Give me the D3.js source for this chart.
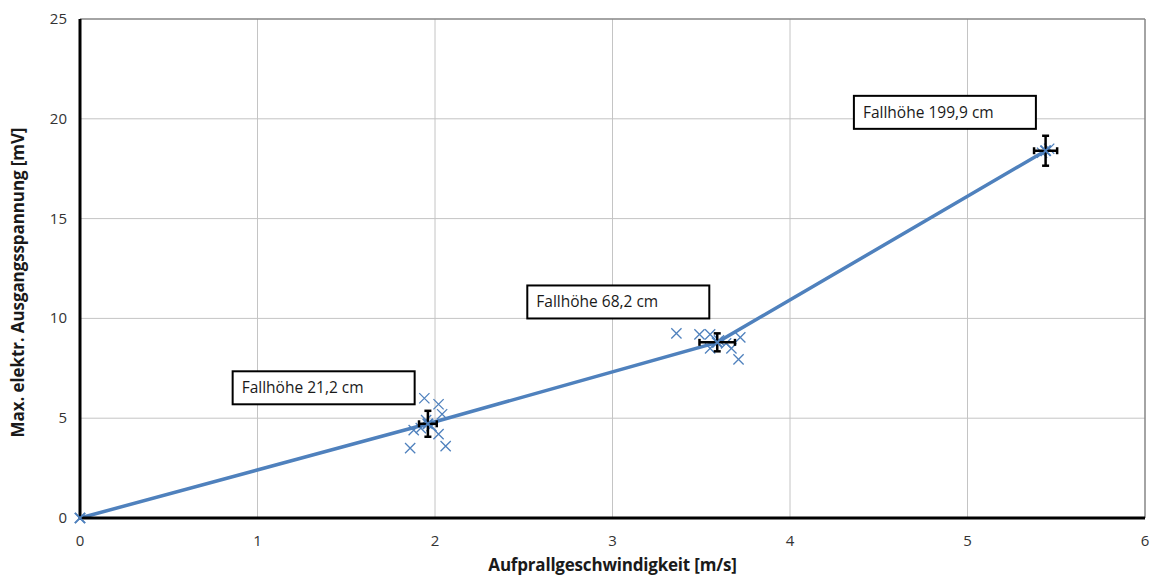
<!DOCTYPE html>
<html>
<head>
<meta charset="utf-8">
<script src="https://cdn.jsdelivr.net/npm/d3@7"></script>
<style>
  body { margin: 0; background: #fff; }
  svg { display: block; font-family: "Open Sans", "Liberation Sans", sans-serif; }
</style>
</head>
<body>
<div class="container"></div>
<script>
const w = 1152;
const h = 579;
const margin = { top: 19, right: 7, bottom: 61, left: 80 };

// mean values per drop height (speed m/s, voltage mV)
const meanSpeed = [0, 1.96, 3.59, 5.44];
const meanVolt = [0, 4.72, 8.8, 18.4];
const errSpeed = [0, 0.05, 0.1, 0.065];
const errVolt = [0, 0.65, 0.45, 0.75];

// single measurements
const measSpeed = [0, 1.94, 2.02, 2.04, 1.86, 2.06, 2.02, 1.88, 1.95, 1.98, 1.92, 3.36, 3.49, 3.55, 3.72, 3.55, 3.67, 3.71, 3.64, 3.6, 5.44, 5.46, 5.42];
const measVolt = [0, 6.0, 5.7, 5.2, 3.5, 3.6, 4.2, 4.4, 4.9, 4.6, 4.5, 9.25, 9.2, 9.2, 9.05, 8.5, 8.5, 7.95, 8.75, 8.9, 18.4, 18.5, 18.3];

const labelText = ['Fallhöhe 21,2 cm', 'Fallhöhe 68,2 cm', 'Fallhöhe 199,9 cm'];
const labelSpeed = [0.86, 2.52, 4.36];
const labelVolt = [7.35, 11.65, 21.15];

const xTicks = [0, 1, 2, 3, 4, 5, 6];
const yTicks = [0, 5, 10, 15, 20, 25];

const blue = '#4F81BD';

const svg = d3.select('.container')
    .append('svg')
    .attr('width', w)
    .attr('height', h);

const x = d3.scaleLinear().domain([0, 6]).range([margin.left, w - margin.right]);
const y = d3.scaleLinear().domain([0, 25]).range([h - margin.bottom, margin.top]);

// grid
svg.append('g')
    .selectAll('line')
    .data(xTicks.slice(1, -1))
    .join('line')
    .attr('x1', d => x(d)).attr('x2', d => x(d))
    .attr('y1', y(0)).attr('y2', y(25))
    .attr('stroke', '#c4c4c4').attr('stroke-width', 1);

svg.append('g')
    .selectAll('line')
    .data(yTicks.slice(1, -1))
    .join('line')
    .attr('x1', x(0)).attr('x2', x(6))
    .attr('y1', d => y(d)).attr('y2', d => y(d))
    .attr('stroke', '#c4c4c4').attr('stroke-width', 1);

// plot frame: top/right grey, left/bottom black
svg.append('line')
    .attr('x1', x(0)).attr('x2', x(6)).attr('y1', y(25)).attr('y2', y(25))
    .attr('stroke', '#868686').attr('stroke-width', 1.5);
svg.append('line')
    .attr('x1', x(6)).attr('x2', x(6)).attr('y1', y(25)).attr('y2', y(0))
    .attr('stroke', '#868686').attr('stroke-width', 1.5);

// tick labels
svg.append('g')
    .selectAll('text')
    .data(yTicks)
    .join('text')
    .attr('x', x(0) - 13)
    .attr('y', d => y(d) + 5)
    .attr('text-anchor', 'end')
    .attr('fill', '#333')
    .style('font-size', '15px')
    .text(d => d);

svg.append('g')
    .selectAll('text')
    .data(xTicks)
    .join('text')
    .attr('x', d => x(d))
    .attr('y', y(0) + 28)
    .attr('text-anchor', 'middle')
    .attr('fill', '#333')
    .style('font-size', '15px')
    .text(d => d);

// axis titles
svg.append('text')
    .attr('x', (x(0) + x(6)) / 2)
    .attr('y', h - 8)
    .attr('text-anchor', 'middle')
    .attr('fill', '#1a1a1a')
    .style('font-size', '17px')
    .style('font-weight', 'bold')
    .style('letter-spacing', '-0.2px')
    .text('Aufprallgeschwindigkeit [m/s]');

svg.append('text')
    .attr('transform', `translate(24, ${(y(0) + y(25)) / 2 + 14}) rotate(-90)`)
    .attr('text-anchor', 'middle')
    .attr('fill', '#1a1a1a')
    .style('font-size', '17px')
    .style('font-weight', 'bold')
    .style('letter-spacing', '-0.1px')
    .text('Max. elektr. Ausgangsspannung [mV]');

// label boxes
const labels = svg.append('g')
    .selectAll('g')
    .data(labelText.map((t, i) => ({ t, sx: labelSpeed[i], sv: labelVolt[i] })))
    .join('g')
    .attr('transform', d => `translate(${x(d.sx)}, ${y(d.sv)})`);

labels.append('rect')
    .attr('width', 182)
    .attr('height', 33)
    .attr('fill', '#fff')
    .attr('stroke', '#000')
    .attr('stroke-width', 2);

labels.append('text')
    .attr('x', 9)
    .attr('y', 22)
    .attr('fill', '#1a1a1a')
    .style('font-size', '15.5px')
    .text(d => d.t);

// single measurement crosses
const cross = d3.symbol().type(d3.symbolTimes).size(70);
svg.append('g')
    .selectAll('path')
    .data(measSpeed.map((s, i) => [s, measVolt[i]]))
    .join('path')
    .attr('d', cross)
    .attr('transform', d => `translate(${x(d[0])}, ${y(d[1])})`)
    .attr('fill', 'none')
    .attr('stroke', blue)
    .attr('stroke-width', 1.3);

// mean line
const line = d3.line().x(d => x(d[0])).y(d => y(d[1]));
svg.append('path')
    .datum(meanSpeed.map((s, i) => [s, meanVolt[i]]))
    .attr('d', line)
    .attr('fill', 'none')
    .attr('stroke', blue)
    .attr('stroke-width', 3.5);

// error bars
const errs = svg.append('g')
    .selectAll('g')
    .data(meanSpeed.map((s, i) => ({ s, v: meanVolt[i], es: errSpeed[i], ev: errVolt[i] })).filter(d => d.es > 0))
    .join('g');

errs.append('line')
    .attr('x1', d => x(d.s)).attr('x2', d => x(d.s))
    .attr('y1', d => y(d.v - d.ev)).attr('y2', d => y(d.v + d.ev))
    .attr('stroke', '#000').attr('stroke-width', 2.5);
errs.append('line')
    .attr('x1', d => x(d.s - d.es)).attr('x2', d => x(d.s + d.es))
    .attr('y1', d => y(d.v)).attr('y2', d => y(d.v))
    .attr('stroke', '#000').attr('stroke-width', 2.5);
errs.selectAll('.capv')
    .data(d => [[d.s, d.v - d.ev], [d.s, d.v + d.ev]])
    .join('line')
    .attr('x1', d => x(d[0]) - 3.5).attr('x2', d => x(d[0]) + 3.5)
    .attr('y1', d => y(d[1])).attr('y2', d => y(d[1]))
    .attr('stroke', '#000').attr('stroke-width', 2.5);
errs.selectAll('.caph')
    .data(d => [[d.s - d.es, d.v], [d.s + d.es, d.v]])
    .join('line')
    .attr('x1', d => x(d[0])).attr('x2', d => x(d[0]))
    .attr('y1', d => y(d[1]) - 3.5).attr('y2', d => y(d[1]) + 3.5)
    .attr('stroke', '#000').attr('stroke-width', 2.5);

// centre crosses on means
svg.append('g')
    .selectAll('path')
    .data(meanSpeed.map((s, i) => [s, meanVolt[i]]).slice(1))
    .join('path')
    .attr('d', cross)
    .attr('transform', d => `translate(${x(d[0])}, ${y(d[1])})`)
    .attr('fill', 'none')
    .attr('stroke', blue)
    .attr('stroke-width', 2);

// left and bottom axis lines (black, thick)
svg.append('line')
    .attr('x1', x(0)).attr('x2', x(0)).attr('y1', y(25)).attr('y2', y(0) + 1.5)
    .attr('stroke', '#000').attr('stroke-width', 3);
svg.append('line')
    .attr('x1', x(0)).attr('x2', x(6)).attr('y1', y(0)).attr('y2', y(0))
    .attr('stroke', '#000').attr('stroke-width', 3);

// origin marker on top of axes
svg.append('path')
    .attr('d', cross)
    .attr('transform', `translate(${x(0)}, ${y(0)})`)
    .attr('fill', 'none')
    .attr('stroke', blue)
    .attr('stroke-width', 2);
</script>
</body>
</html>
